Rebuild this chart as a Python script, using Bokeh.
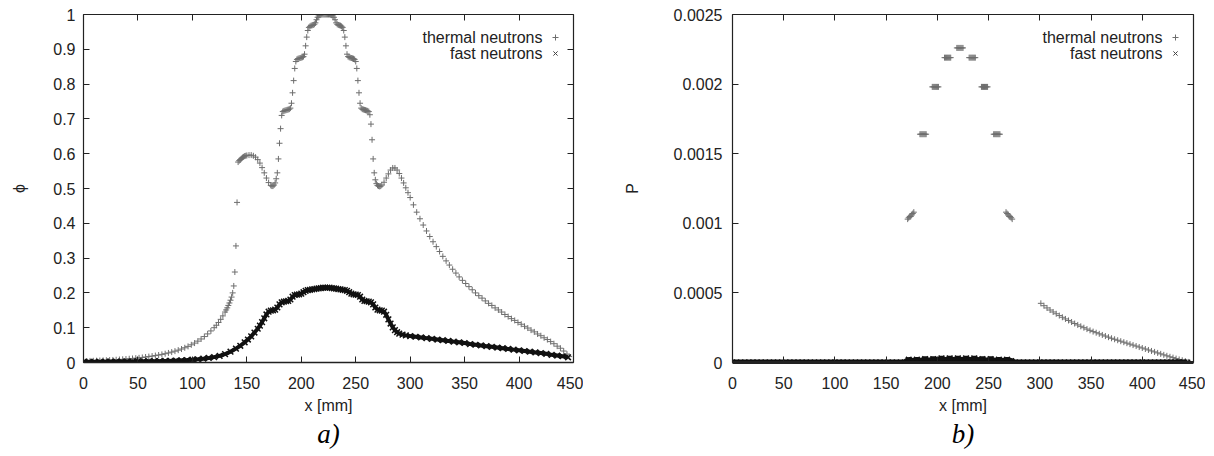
from bokeh.plotting import figure
from bokeh.models import LinearAxis, FixedTicker, Range1d, Label, Title
from bokeh.layouts import row
from bokeh.embed import file_html
from bokeh.resources import INLINE

# ---------------- data ----------------
x_ticks = [0, 50, 100, 150, 200, 250, 300, 350, 400, 450]
phi_ticks = [0, 0.1, 0.2, 0.3, 0.4, 0.5, 0.6, 0.7, 0.8, 0.9, 1]
phi_tick_labels = ["0", "0.1", "0.2", "0.3", "0.4", "0.5", "0.6", "0.7", "0.8", "0.9", "1"]
p_ticks = [0, 0.0005, 0.001, 0.0015, 0.002, 0.0025]
p_tick_labels = ["0", "0.0005", "0.001", "0.0015", "0.002", "0.0025"]
series_names = ["thermal neutrons", "fast neutrons"]
captions = ["a)", "b)"]
x_title = "x [mm]"
y_titles = ["\u03d5", "P"]

# panel a: thermal neutron flux
phi_th_x = [0, 3, 6, 9, 12, 15, 18, 21, 24, 27,
            30, 33, 36, 39, 42, 45, 48, 51, 54, 57,
            60, 63, 66, 69, 72, 75, 78, 81, 84, 87,
            90, 93, 96, 99, 102, 105, 108, 111, 114, 117,
            120, 122, 124, 126, 128, 130, 131, 132, 133, 134, 135, 136, 137, 138, 139, 140, 141, 142,
            143, 144, 145, 146, 147, 148, 149, 150, 152, 154,
            156, 158, 160, 162, 164, 166, 168, 170, 172, 173,
            174, 175, 176, 177, 178, 179, 180, 181, 182,
            183, 184, 185, 186, 187, 188, 189, 190, 191, 192,
            193, 194, 195, 196, 197, 198, 199, 200, 201, 202,
            203, 204, 205, 206, 207, 208, 209, 210, 211, 212,
            213, 214, 215, 216, 217, 218, 219, 220, 221, 222,
            223, 224, 225, 226, 227, 228, 229, 230, 231, 232,
            233, 234, 235, 236, 237, 238, 239, 240, 241, 242,
            243, 244, 245, 246, 247, 248, 249, 250, 251, 252,
            253, 254, 255, 256, 257, 258, 259, 260, 261, 262,
            263, 264, 265, 266, 267, 268, 269, 270, 271, 272,
            273, 274, 276, 278, 280, 282, 284, 286, 288, 290,
            292, 294, 296, 298,
            300, 303, 306, 309, 312, 315, 318, 321, 324, 327,
            330, 333, 336, 339, 342, 345, 348, 351, 354, 357,
            360, 363, 366, 369, 372, 375, 378, 381, 384, 387,
            390, 393, 396, 399, 402, 405, 408, 411, 414, 417,
            420, 423, 426, 429, 432, 435, 438, 441, 444, 446]
phi_th_y = [0.004, 0.0043, 0.0046, 0.0049, 0.0052, 0.0056, 0.006, 0.0064, 0.0068, 0.0073,
            0.0079, 0.0085, 0.0092, 0.0099, 0.0107, 0.0115, 0.0124, 0.0134, 0.0145, 0.0157,
            0.017, 0.0184, 0.0199, 0.0215, 0.0233, 0.0253, 0.0275, 0.0299, 0.0326, 0.0355,
            0.0387, 0.0423, 0.0463, 0.0508, 0.0558, 0.0614, 0.0676, 0.0745, 0.0822, 0.0907,
            0.1, 0.107, 0.115, 0.124, 0.134, 0.145, 0.151, 0.157, 0.164, 0.171, 0.179, 0.188, 0.2, 0.22, 0.26, 0.335, 0.46, 0.576,
            0.58, 0.583, 0.586, 0.589, 0.591, 0.593, 0.594, 0.595, 0.596, 0.596,
            0.594, 0.59, 0.583, 0.573, 0.56, 0.545, 0.53, 0.517, 0.509, 0.507,
            0.507, 0.51, 0.516, 0.528, 0.545, 0.585, 0.63, 0.672, 0.71,
            0.721, 0.723, 0.724, 0.725, 0.726, 0.727, 0.728, 0.731, 0.745, 0.775,
            0.81, 0.845, 0.865, 0.871, 0.873, 0.874, 0.875, 0.876, 0.877, 0.879,
            0.886, 0.91, 0.935, 0.954, 0.963, 0.966, 0.968, 0.969, 0.97, 0.972,
            0.976, 0.985, 0.992, 0.996, 0.998, 0.999, 1.0, 1.0, 1.0, 1.0,
            1.0, 1.0, 1.0, 1.0, 0.999, 0.998, 0.996, 0.992, 0.985, 0.976,
            0.972, 0.97, 0.969, 0.968, 0.966, 0.963, 0.954, 0.935, 0.91, 0.886,
            0.879, 0.877, 0.876, 0.875, 0.874, 0.873, 0.871, 0.865, 0.845, 0.81,
            0.775, 0.745, 0.731, 0.728, 0.727, 0.726, 0.725, 0.724, 0.723, 0.721,
            0.712, 0.685, 0.64, 0.585, 0.545, 0.525, 0.514, 0.509, 0.507, 0.506,
            0.507, 0.51, 0.518, 0.53, 0.542, 0.553, 0.559, 0.559, 0.553, 0.543,
            0.53, 0.516, 0.502, 0.488,
            0.474, 0.453, 0.432, 0.413, 0.395, 0.378, 0.362, 0.347, 0.333, 0.319,
            0.305, 0.292, 0.28, 0.268, 0.257, 0.246, 0.236, 0.227, 0.218, 0.209,
            0.2, 0.192, 0.185, 0.177, 0.17, 0.164, 0.157, 0.151, 0.145, 0.138,
            0.132, 0.126, 0.121, 0.115, 0.11, 0.104, 0.099, 0.093, 0.088, 0.082,
            0.077, 0.071, 0.066, 0.06, 0.054, 0.047, 0.041, 0.033, 0.024, 0.017]

# panel a: fast neutron flux
phi_fa_x = [0, 5, 10, 15, 20, 25, 30, 35, 40, 45,
            50, 55, 60, 65, 70, 75, 80, 85, 90, 95,
            100, 105, 110, 115, 120, 125, 130, 135, 140,
            144, 148, 151, 154, 157, 160, 162, 164, 166, 168,
            170, 172, 174, 176, 178, 180, 182, 184, 186, 188,
            190, 192, 194, 196, 198, 200, 202, 204, 206, 208,
            210, 212, 214, 216, 218, 220, 222, 224, 226, 228,
            230, 232, 234, 236, 238, 240, 242, 244, 246, 248,
            250, 252, 254, 256, 258, 260, 262, 264, 266, 268,
            270, 272, 274, 276, 278, 280, 282, 284, 286, 288,
            290, 293, 296,
            300, 305, 310, 315, 320, 325, 330, 335, 340, 345,
            350, 355, 360, 365, 370, 375, 380, 385, 390, 395,
            400, 405, 410, 415, 420, 425, 430, 435, 440, 445]
phi_fa_y = [0.002, 0.002, 0.0021, 0.0022, 0.0023, 0.0024, 0.0025, 0.0026, 0.0027, 0.0029,
            0.0031, 0.0033, 0.0035, 0.0038, 0.0041, 0.0045, 0.005, 0.0056, 0.0063, 0.0071,
            0.008, 0.0093, 0.011, 0.013, 0.0155, 0.019, 0.024, 0.031, 0.04,
            0.048, 0.058, 0.066, 0.075, 0.086, 0.097, 0.106, 0.116, 0.127, 0.138,
            0.146, 0.149, 0.15, 0.152, 0.158, 0.167, 0.173, 0.175, 0.176, 0.177,
            0.181, 0.189, 0.194, 0.195, 0.196, 0.198, 0.202, 0.206, 0.208, 0.209,
            0.21, 0.211, 0.212, 0.213, 0.214, 0.215, 0.215, 0.215, 0.215, 0.214,
            0.213, 0.212, 0.211, 0.21, 0.209, 0.208, 0.206, 0.202, 0.198, 0.196,
            0.195, 0.194, 0.189, 0.181, 0.177, 0.176, 0.175, 0.173, 0.167, 0.158,
            0.152, 0.15, 0.149, 0.146, 0.137, 0.124, 0.112, 0.101, 0.093, 0.087,
            0.083, 0.08, 0.078,
            0.076, 0.074, 0.072, 0.07, 0.068, 0.066, 0.064, 0.062, 0.06, 0.058,
            0.056, 0.053, 0.051, 0.049, 0.047, 0.045, 0.043, 0.041, 0.039, 0.037,
            0.035, 0.033, 0.031, 0.029, 0.027, 0.025, 0.022, 0.02, 0.018, 0.015]

# panel b: thermal power density (fuel cells and outer region)
p_th_x = [171, 172, 173, 174, 175, 176, 177,
          183, 184, 185, 186, 187, 188, 189,
          195, 196, 197, 198, 199, 200, 201,
          207, 208, 209, 210, 211, 212, 213,
          219, 220, 221, 222, 223, 224, 225,
          231, 232, 233, 234, 235, 236, 237,
          243, 244, 245, 246, 247, 248, 249,
          255, 256, 257, 258, 259, 260, 261,
          267, 268, 269, 270, 271, 272, 273,
          301, 304, 307, 310, 313, 316, 319, 322, 325, 328,
          331, 334, 337, 340, 343, 346, 349, 352, 355, 358,
          361, 364, 367, 370, 373, 376, 379, 382, 385, 388,
          391, 394, 397, 400, 403, 406, 409, 412, 415, 418,
          421, 424, 427, 430, 433, 436, 439, 442, 445]
p_th_y = [0.00103, 0.00104, 0.00105, 0.00105, 0.00106, 0.00107, 0.00108,
          0.00164, 0.00164, 0.00164, 0.00164, 0.00164, 0.00164, 0.00164,
          0.00198, 0.00198, 0.00198, 0.00198, 0.00198, 0.00198, 0.00198,
          0.00219, 0.00219, 0.00219, 0.00219, 0.00219, 0.00219, 0.00219,
          0.00226, 0.00226, 0.00226, 0.00226, 0.00226, 0.00226, 0.00226,
          0.00219, 0.00219, 0.00219, 0.00219, 0.00219, 0.00219, 0.00219,
          0.00198, 0.00198, 0.00198, 0.00198, 0.00198, 0.00198, 0.00198,
          0.00164, 0.00164, 0.00164, 0.00164, 0.00164, 0.00164, 0.00164,
          0.00108, 0.00107, 0.00106, 0.00105, 0.00105, 0.00104, 0.00103,
          0.000425, 0.000408, 0.000392, 0.000377, 0.000363, 0.00035, 0.000337, 0.000325, 0.000313, 0.000302,
          0.000291, 0.00028, 0.00027, 0.00026, 0.00025, 0.00024, 0.000231, 0.000222, 0.000214, 0.000206,
          0.000198, 0.00019, 0.000182, 0.000174, 0.000167, 0.00016, 0.000153, 0.000146, 0.000139, 0.000132,
          0.000125, 0.000118, 0.000111, 0.000104, 0.000097, 0.00009, 0.000083, 0.000076, 0.000069, 0.000062,
          0.000055, 0.000048, 0.000041, 0.000035, 0.000028, 0.000022, 0.000016, 0.00001, 0.000004]

# panel b: fast power density
p_fa_x = [0, 4, 8, 12, 16, 20, 24, 28, 32, 36,
          40, 44, 48, 52, 56, 60, 64, 68, 72, 76,
          80, 84, 88, 92, 96, 100, 104, 108, 112, 116,
          120, 124, 128, 132, 136, 140, 144, 148, 152, 156,
          160, 164, 168,
          172, 176, 180, 184, 188, 192, 196, 200, 204, 208,
          212, 216, 220, 224, 228, 232, 236, 240, 244, 248,
          252, 256, 260, 264, 268, 272,
          276, 280, 284, 288, 292, 296, 300, 304, 308, 312,
          316, 320, 324, 328, 332, 336, 340, 344, 348, 352,
          356, 360, 364, 368, 372, 376, 380, 384, 388, 392,
          396, 400, 404, 408, 412, 416, 420, 424, 428, 432,
          436, 440, 444]
p_fa_y = [0, 0, 0, 0, 0, 0, 0, 0, 0, 0,
          0, 0, 0, 0, 0, 0, 0, 0, 0, 0,
          0, 0, 0, 0, 0, 0, 0, 0, 0, 0,
          0, 0, 0, 0, 0, 0, 0, 0, 0, 0,
          0, 0, 0,
          0.00002, 0.00001, 0.00002, 0.00001, 0.000025, 0.00001, 0.000025, 0.000015, 0.00003, 0.000015,
          0.00003, 0.000015, 0.00003, 0.000015, 0.00003, 0.000015, 0.00003, 0.000015, 0.000025, 0.00001,
          0.000025, 0.00001, 0.00002, 0.00001, 0.00002, 0.00001,
          0, 0, 0, 0, 0, 0, 0, 0, 0, 0,
          0, 0, 0, 0, 0, 0, 0, 0, 0, 0,
          0, 0, 0, 0, 0, 0, 0, 0, 0, 0,
          0, 0, 0, 0, 0, 0, 0, 0, 0, 0,
          0, 0, 0]

# ---------------- style ----------------
FONT = "Liberation Sans"
TXT = "#222222"
TH_COLOR = "#6e6e6e"
FA_COLOR = "#111111"
FRAME_H = 348
FIG_H = 452
TOP = 14


def style_axis(ax, ticks, standoff):
    ax.ticker = FixedTicker(ticks=ticks)
    ax.major_tick_in = 6
    ax.major_tick_out = 0
    ax.minor_tick_line_color = None
    ax.axis_line_color = "#222222"
    ax.axis_line_width = 1.2
    ax.major_tick_line_color = "#222222"
    ax.major_label_text_font = FONT
    ax.major_label_text_font_size = "16px"
    ax.major_label_text_color = TXT
    ax.major_label_standoff = standoff


def mirror_axis(p, ticks, side):
    ax = LinearAxis()
    style_axis(ax, ticks, 0)
    ax.major_label_text_font_size = "0px"
    ax.major_label_text_color = None
    p.add_layout(ax, side)


def make_panel(width, frame_w, left, right, y_end, y_ticks, y_labels, y_title,
               y_tick_standoff, y_title_standoff, caption,
               th_x, th_y, fa_x, fa_y, base_width, fa_line_width):
    p = figure(width=width, height=FIG_H, x_range=Range1d(0, 450), y_range=Range1d(0, y_end),
               output_backend="svg", toolbar_location=None,
               min_border_left=left, min_border_right=right,
               min_border_top=TOP, min_border_bottom=FIG_H - TOP - FRAME_H)
    p.grid.visible = False
    p.outline_line_color = None
    p.background_fill_color = "white"
    p.border_fill_color = "white"

    xa = p.xaxis[0]
    style_axis(xa, x_ticks, 14)
    xa.axis_line_width = base_width
    xa.axis_label = x_title
    xa.axis_label_text_font = FONT
    xa.axis_label_text_font_size = "16px"
    xa.axis_label_text_font_style = "normal"
    xa.axis_label_text_color = TXT
    xa.axis_label_standoff = 5

    ya = p.yaxis[0]
    style_axis(ya, y_ticks, y_tick_standoff)
    ya.major_label_overrides = dict(zip(y_ticks, y_labels))
    ya.axis_label = y_title
    ya.axis_label_text_font = FONT
    ya.axis_label_text_font_size = "16px"
    ya.axis_label_text_font_style = "normal"
    ya.axis_label_text_color = TXT
    ya.axis_label_standoff = y_title_standoff

    # mirrored ticks on top and right (gnuplot border tics)
    mirror_axis(p, x_ticks, "above")
    mirror_axis(p, y_ticks, "right")

    # data
    p.scatter(th_x, th_y, marker="cross", size=6, line_color=TH_COLOR, line_width=1)
    p.line(fa_x, fa_y, line_color=FA_COLOR, line_width=fa_line_width)
    p.scatter(fa_x, fa_y, marker="x", size=8, line_color=FA_COLOR, line_width=1.5)

    # key (text then sample, gnuplot style)
    markers = [("cross", TH_COLOR, 6, 1), ("x", "#444444", 6, 1)]
    for i, name in enumerate(series_names):
        dy = 23 + 16 * i
        p.add_layout(Label(x=frame_w - 31, y=FRAME_H - dy, x_units="screen", y_units="screen",
                           text=name, text_align="right", text_baseline="middle",
                           text_font=FONT, text_font_size="16px", text_color=TXT))
        m, c, s, lw = markers[i]
        p.scatter([450 - 18 * 450 / frame_w], [y_end * (1 - dy / FRAME_H)],
                  marker=m, size=s, line_color=c, line_width=lw)

    p.add_layout(Title(text=caption, align="center", text_font="Liberation Serif",
                       text_font_style="italic", text_font_size="27px",
                       text_color="black", standoff=0), "below")
    return p


p1 = make_panel(583, 490, 83, 10, 1, phi_ticks, phi_tick_labels, y_titles[0], 8, 22, captions[0],
                phi_th_x, phi_th_y, phi_fa_x, phi_fa_y, 1.6, 4)
p2 = make_panel(622, 461, 149, 12, 0.0025, p_ticks, p_tick_labels, y_titles[1], 10, 30, captions[1],
                p_th_x, p_th_y, p_fa_x, p_fa_y, 3, 6)

layout = row(p1, p2)
open("out.html", "w").write(file_html(layout, INLINE))
